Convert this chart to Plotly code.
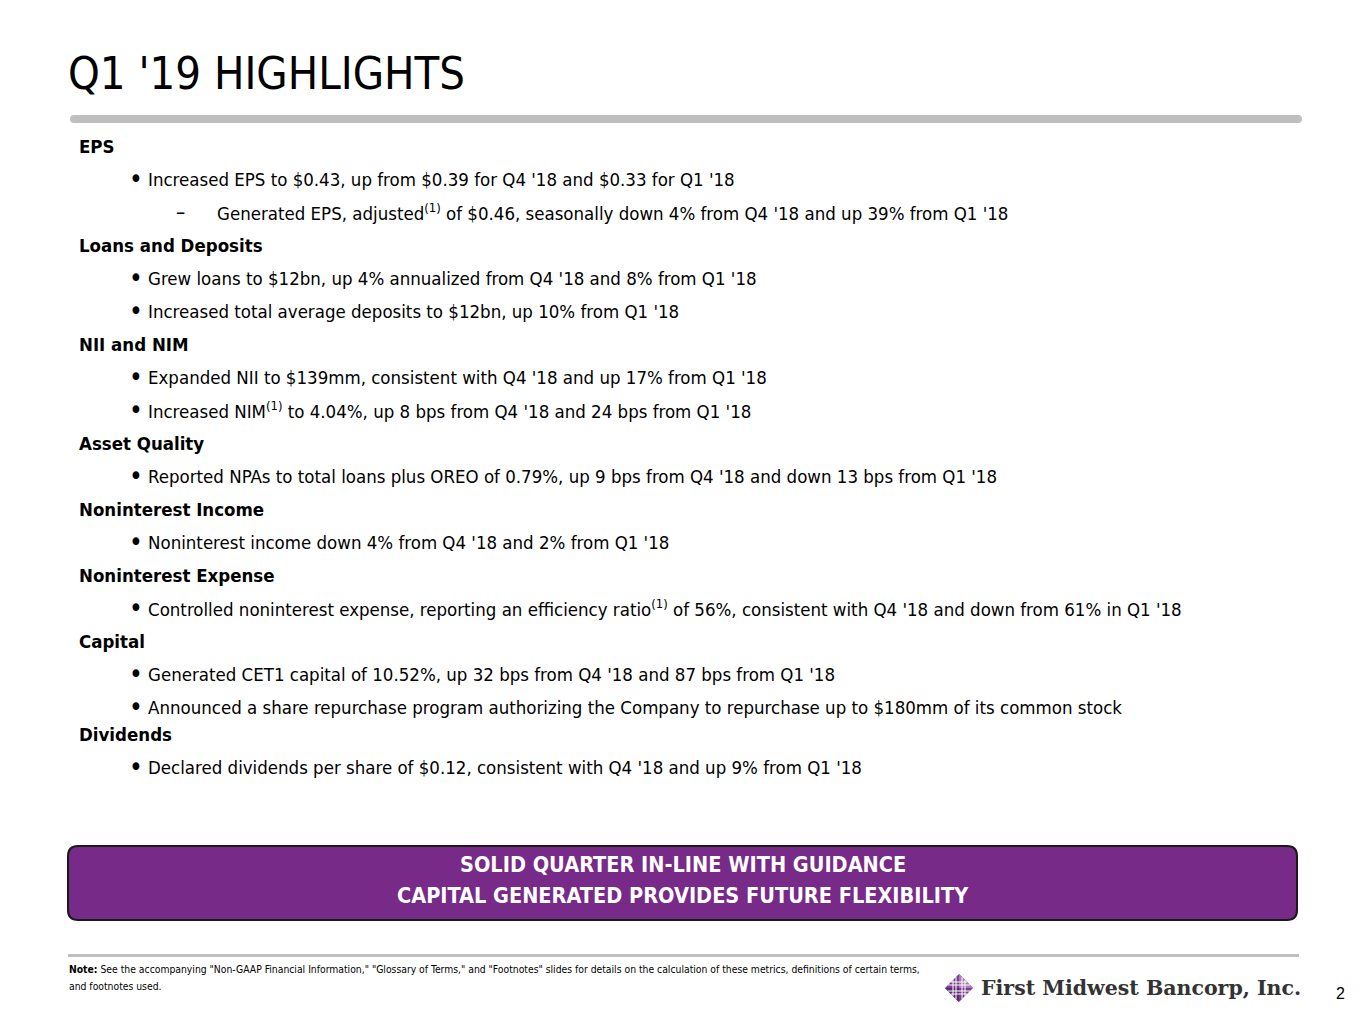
import plotly.graph_objects as go

# ---------------- content ----------------
title_text = "Q1 '19 HIGHLIGHTS"

headings = [
    "EPS",
    "Loans and Deposits",
    "NII and NIM",
    "Asset Quality",
    "Noninterest Income",
    "Noninterest Expense",
    "Capital",
    "Dividends",
]

bullets = [
    ["Increased EPS to $0.43, up from $0.39 for Q4 '18 and $0.33 for Q1 '18"],
    ["Grew loans to $12bn, up 4% annualized from Q4 '18 and 8% from Q1 '18",
     "Increased total average deposits to $12bn, up 10% from Q1 '18"],
    ["Expanded NII to $139mm, consistent with Q4 '18 and up 17% from Q1 '18",
     "Increased NIM<sup>(1)</sup> to 4.04%, up 8 bps from Q4 '18 and 24 bps from Q1 '18"],
    ["Reported NPAs to total loans plus OREO of 0.79%, up 9 bps from Q4 '18 and down 13 bps from Q1 '18"],
    ["Noninterest income down 4% from Q4 '18 and 2% from Q1 '18"],
    ["Controlled noninterest expense, reporting an efficiency ratio<sup>(1)</sup> of 56%, consistent with Q4 '18 and down from 61% in Q1 '18"],
    ["Generated CET1 capital of 10.52%, up 32 bps from Q4 '18 and 87 bps from Q1 '18",
     "Announced a share repurchase program authorizing the Company to repurchase up to $180mm of its common stock"],
    ["Declared dividends per share of $0.12, consistent with Q4 '18 and up 9% from Q1 '18"],
]

# sub-bullets: (section index, bullet index) -> list of sub lines
sub_bullets = {
    (0, 0): ["Generated EPS, adjusted<sup>(1)</sup> of $0.46, seasonally down 4% from Q4 '18 and up 39% from Q1 '18"],
}

banner_lines = [
    "SOLID QUARTER IN-LINE WITH GUIDANCE",
    "CAPITAL GENERATED PROVIDES FUTURE FLEXIBILITY",
]

note_lines = [
    "<b>Note:</b> See the accompanying \"Non-GAAP Financial Information,\" \"Glossary of Terms,\" and \"Footnotes\" slides for details on the calculation of these metrics, definitions of certain terms,",
    "and footnotes used.",
]

company_name = "First Midwest Bancorp, Inc."
page_number = "2"

# ---------------- styling ----------------
W, H = 1365, 1024
FONT = "DejaVu Sans Condensed, Liberation Sans Narrow, Arial Narrow, sans-serif"
TXT = "#000000"
PURPLE = "#772A87"
GRAY = "#BFBFBF"

fig = go.Figure()
fig.update_layout(
    width=W, height=H,
    margin=dict(l=0, r=0, t=0, b=0),
    paper_bgcolor="white", plot_bgcolor="white",
    xaxis=dict(range=[0, W], visible=False, fixedrange=True),
    yaxis=dict(range=[H, 0], visible=False, fixedrange=True),
    showlegend=False,
)

ann = []
shapes = []

def text(x, y, s, size, color=TXT, anchor="left", family=FONT, yanchor="middle"):
    ann.append(dict(x=x, y=y, xref="x", yref="y", text=s, showarrow=False,
                    xanchor=anchor, yanchor=yanchor,
                    font=dict(family=family, size=size, color=color)))

BODY = 18.5
HEAD = 18.5

# title
text(66, 73, title_text, 45)

# top gray rule
shapes.append(dict(type="path",
                   path="M 74 115 L 1298 115 Q 1302 115 1302 119 Q 1302 123 1298 123 L 74 123 Q 70 123 70 119 Q 70 115 74 115 Z",
                   fillcolor=GRAY, line=dict(width=0), xref="x", yref="y"))

# body rows
y = 146
step = 33
for si, head in enumerate(headings):
    if head == "Dividends":
        y -= 6
    text(77, y, "<b>" + head + "</b>", HEAD)
    y += step
    for bi, b in enumerate(bullets[si]):
        text(127, y, "•", 26)
        text(146, y, b, BODY)
        y += step
        for sb in sub_bullets.get((si, bi), []):
            text(174, y, "–", BODY + 2)
            text(215, y, sb, BODY)
            y += step

# purple banner
x0, x1, y0, y1, r = 68, 1297, 846, 920, 10
banner_path = (f"M {x0+r} {y0} L {x1-r} {y0} Q {x1} {y0} {x1} {y0+r} "
               f"L {x1} {y1-r} Q {x1} {y1} {x1-r} {y1} L {x0+r} {y1} "
               f"Q {x0} {y1} {x0} {y1-r} L {x0} {y0+r} Q {x0} {y0} {x0+r} {y0} Z")
shapes.append(dict(type="path", path=banner_path, fillcolor=PURPLE,
                   line=dict(color="#1a1a1a", width=2), xref="x", yref="y"))
text(683, 864, "<b>" + banner_lines[0] + "</b>", 21.5, color="white", anchor="center")
text(683, 895, "<b>" + banner_lines[1] + "</b>", 21.5, color="white", anchor="center")

# bottom gray rule
shapes.append(dict(type="rect", x0=68, x1=1299, y0=954, y1=957,
                   fillcolor=GRAY, line=dict(width=0), xref="x", yref="y"))

# note
text(67, 969, note_lines[0], 10.3)
text(67, 986, note_lines[1], 10.3)

# logo diamond
cx, cy, s = 959, 988, 14
shapes.append(dict(type="path",
                   path=f"M {cx} {cy-s} L {cx+s} {cy} L {cx} {cy+s} L {cx-s} {cy} Z",
                   fillcolor="#7B3F8F", line=dict(width=0), xref="x", yref="y"))
shapes.append(dict(type="path",
                   path=f"M {cx} {cy-s} L {cx+s} {cy} L {cx} {cy} Z",
                   fillcolor="#A77BB5", line=dict(width=0), xref="x", yref="y"))
shapes.append(dict(type="path",
                   path=f"M {cx-s} {cy} L {cx} {cy+s} L {cx} {cy} Z",
                   fillcolor="#5C2A6E", line=dict(width=0), xref="x", yref="y"))
for d in (-6, -3, 3, 6):
    shapes.append(dict(type="line", x0=cx + d, x1=cx + d, y0=cy - (s - abs(d)), y1=cy + (s - abs(d)),
                       line=dict(color="white", width=1), xref="x", yref="y"))
    shapes.append(dict(type="line", y0=cy + d, y1=cy + d, x0=cx - (s - abs(d)), x1=cx + (s - abs(d)),
                       line=dict(color="white", width=1), xref="x", yref="y"))

text(979, 988, "<b>" + company_name + "</b>", 20.5, color="#333333",
     family="DejaVu Serif, Liberation Serif, serif")
text(1340, 993, page_number, 16, anchor="center", family="Liberation Sans, Arial, sans-serif")

fig.update_layout(annotations=ann, shapes=shapes)
fig.write_html("out.html", config={"displayModeBar": False},
               post_script="document.body.style.margin='0';")
